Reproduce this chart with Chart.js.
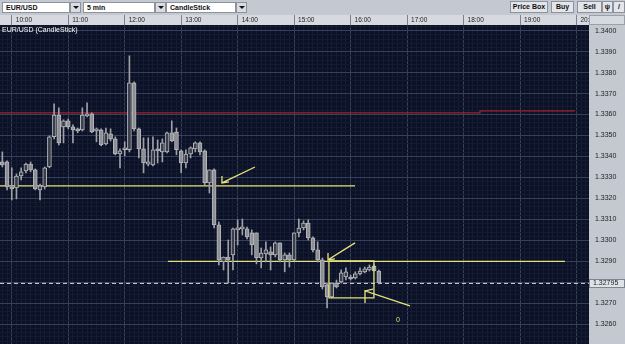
<!DOCTYPE html>
<html>
<head>
<meta charset="utf-8">
<script src="https://cdn.jsdelivr.net/npm/chart.js@4.4.1/dist/chart.umd.min.js"></script>
<style>
  html, body { margin: 0; padding: 0; width: 625px; height: 344px; overflow: hidden; background: #c4c8d0; }
  #bar { position: absolute; left: 0; top: 0; width: 625px; height: 15px; background: #c3c8d1; font-family: "Liberation Sans", Arial, sans-serif; }
  .sel { position: absolute; top: 2px; height: 11px; background: #fff; border: 1px solid #8d929b; box-sizing: border-box; font-weight: bold; font-size: 7px; line-height: 9px; padding-left: 3px; color: #111; }
  .dd { position: absolute; top: 2px; width: 11px; height: 11px; background: #d9dce2; border: 1px solid #8d929b; box-sizing: border-box; }
  .dd:after { content: ''; position: absolute; left: 2px; top: 3px; border-left: 3px solid transparent; border-right: 3px solid transparent; border-top: 3px solid #111; }
  .btn { position: absolute; top: 1px; height: 12px; background: #e2e5e9; border: 1px solid #8d929b; box-sizing: border-box; font-weight: bold; font-size: 7px; line-height: 10px; text-align: center; color: #111; }
  #wrap { position: absolute; left: 0; top: 15px; width: 625px; height: 329px; }
</style>
</head>
<body>
<div id="bar">
  <div class="sel" style="left:2px;width:68px">EUR/USD</div><div class="dd" style="left:70px"></div>
  <div class="sel" style="left:83px;width:72px">5 min</div><div class="dd" style="left:155px"></div>
  <div class="sel" style="left:166px;width:70px">CandleStick</div><div class="dd" style="left:236px"></div>
  <div class="btn" style="left:510px;width:38px">Price Box</div>
  <div class="btn" style="left:551px;width:23px">Buy</div>
  <div class="btn" style="left:577px;width:25px">Sell</div>
  <div class="btn" style="left:602px;width:11px">ψ</div>
  <div class="btn" style="left:613px;width:12px">/</div>
</div>
<div id="wrap"><canvas id="chart" width="625" height="329"></canvas></div>
<script>
// 5 minute EUR/USD candles
const times = [
  '09:50', '09:55',
  '10:00', '10:05', '10:10', '10:15', '10:20', '10:25', '10:30', '10:35', '10:40', '10:45', '10:50', '10:55',
  '11:00', '11:05', '11:10', '11:15', '11:20', '11:25', '11:30', '11:35', '11:40', '11:45', '11:50', '11:55',
  '12:00', '12:05', '12:10', '12:15', '12:20', '12:25', '12:30', '12:35', '12:40', '12:45', '12:50', '12:55',
  '13:00', '13:05', '13:10', '13:15', '13:20', '13:25', '13:30', '13:35', '13:40', '13:45', '13:50', '13:55',
  '14:00', '14:05', '14:10', '14:15', '14:20', '14:25', '14:30', '14:35', '14:40', '14:45', '14:50', '14:55',
  '15:00', '15:05', '15:10', '15:15', '15:20', '15:25', '15:30', '15:35', '15:40', '15:45', '15:50', '15:55',
  '16:00', '16:05', '16:10', '16:15', '16:20', '16:25', '16:30'
];
const opens = [
  1.33374, 1.33374, 1.33255, 1.33250, 1.33307, 1.33331, 1.33364, 1.33336, 1.33241, 1.33255,
  1.33350, 1.33494, 1.33598, 1.33541, 1.33570, 1.33541, 1.33527, 1.33527, 1.33594, 1.33603,
  1.33522, 1.33527, 1.33460, 1.33508, 1.33484, 1.33412, 1.33432, 1.33432, 1.33751, 1.33532,
  1.33436, 1.33364, 1.33360, 1.33432, 1.33422, 1.33422, 1.33513, 1.33517, 1.33427, 1.33369,
  1.33412, 1.33436, 1.33465, 1.33427, 1.33274, 1.33336, 1.33074, 1.32897, 1.32921, 1.32931,
  1.33050, 1.33055, 1.33055, 1.33036, 1.33036, 1.32916, 1.32935, 1.32945, 1.32931, 1.32988,
  1.32907, 1.32931, 1.32907, 1.33036, 1.33059, 1.33083, 1.33012, 1.32955, 1.32907, 1.32788,
  1.32730, 1.32797, 1.32802, 1.32826, 1.32821, 1.32821, 1.32840, 1.32850, 1.32859, 1.32878,
  1.32854
];
const highs = [
  1.33422, 1.33379, 1.33346, 1.33317, 1.33346, 1.33369, 1.33374, 1.33341, 1.33269, 1.33350,
  1.33498, 1.33651, 1.33632, 1.33575, 1.33579, 1.33551, 1.33536, 1.33632, 1.33656, 1.33608,
  1.33536, 1.33532, 1.33536, 1.33532, 1.33494, 1.33436, 1.33470, 1.33880, 1.33756, 1.33536,
  1.33489, 1.33489, 1.33494, 1.33479, 1.33484, 1.33517, 1.33570, 1.33536, 1.33432, 1.33432,
  1.33446, 1.33470, 1.33470, 1.33432, 1.33336, 1.33341, 1.33088, 1.32921, 1.33002, 1.33059,
  1.33098, 1.33102, 1.33064, 1.33050, 1.33036, 1.32964, 1.32993, 1.32969, 1.32993, 1.32988,
  1.32940, 1.32940, 1.33036, 1.33102, 1.33093, 1.33098, 1.33017, 1.32993, 1.32916, 1.32797,
  1.32797, 1.32811, 1.32859, 1.32869, 1.32835, 1.32850, 1.32869, 1.32873, 1.32883, 1.32883,
  1.32859
];
const lows = [
  1.33350, 1.33241, 1.33193, 1.33198, 1.33288, 1.33322, 1.33327, 1.33241, 1.33193, 1.33245,
  1.33346, 1.33484, 1.33455, 1.33465, 1.33532, 1.33465, 1.33513, 1.33522, 1.33589, 1.33513,
  1.33470, 1.33451, 1.33455, 1.33474, 1.33408, 1.33346, 1.33403, 1.33422, 1.33522, 1.33393,
  1.33322, 1.33355, 1.33355, 1.33369, 1.33374, 1.33417, 1.33470, 1.33408, 1.33322, 1.33346,
  1.33393, 1.33422, 1.33408, 1.33265, 1.33226, 1.33059, 1.32883, 1.32859, 1.32797, 1.32859,
  1.32978, 1.33026, 1.33007, 1.32931, 1.32888, 1.32869, 1.32897, 1.32859, 1.32921, 1.32897,
  1.32850, 1.32873, 1.32902, 1.33017, 1.33050, 1.33002, 1.32945, 1.32897, 1.32768, 1.32678,
  1.32726, 1.32773, 1.32797, 1.32811, 1.32811, 1.32816, 1.32835, 1.32845, 1.32854, 1.32854,
  1.32792
];
const closes = [
  1.33360, 1.33255, 1.33245, 1.33307, 1.33327, 1.33364, 1.33336, 1.33245, 1.33260, 1.33346,
  1.33494, 1.33598, 1.33465, 1.33570, 1.33541, 1.33527, 1.33522, 1.33598, 1.33603, 1.33517,
  1.33527, 1.33455, 1.33513, 1.33484, 1.33412, 1.33427, 1.33436, 1.33751, 1.33532, 1.33436,
  1.33369, 1.33374, 1.33432, 1.33427, 1.33465, 1.33513, 1.33474, 1.33432, 1.33369, 1.33412,
  1.33441, 1.33465, 1.33422, 1.33274, 1.33336, 1.33074, 1.32907, 1.32921, 1.32907, 1.33055,
  1.33059, 1.33064, 1.33017, 1.32978, 1.32916, 1.32940, 1.32955, 1.32931, 1.32988, 1.32907,
  1.32931, 1.32907, 1.33036, 1.33059, 1.33083, 1.33012, 1.32955, 1.32907, 1.32778, 1.32730,
  1.32797, 1.32778, 1.32845, 1.32850, 1.32816, 1.32840, 1.32854, 1.32864, 1.32873, 1.32854,
  1.32797
];

// drawn levels and marks, x in minutes after midnight
const lastPrice = 1.32795;
const redLevel = [[587.5, 1.33608], [1097.5, 1.33608], [1097.5, 1.33618], [1198.4, 1.33618]];
const upperYellow = [[587.5, 1.33260], [964.7, 1.33260]];
const lowerYellow = [[766, 1.32900], [1187.8, 1.32900]];
const rangeBox = [[937.0, 1.32902], [984.8, 1.32902], [984.8, 1.32726], [937.0, 1.32726], [937.0, 1.32902]];
const arrowA = [[858.4, 1.33350], [823.3, 1.33274], [823.3, 1.33307], [823.3, 1.33274], [830.8, 1.33279]];
const arrowB = [[964.7, 1.32988], [936.0, 1.32907], [936.0, 1.32940], [936.0, 1.32907], [943.4, 1.32912]];
const arrowC = [[1023.1, 1.32688], [975.3, 1.32759], [975.3, 1.32702], [975.3, 1.32759], [983.8, 1.32768]];
const zeroMark = [1010.4, 1.32621];

const xMin = 587.5, xMax = 1213.3;
const yMin = 1.32506, yMax = 1.34027;

function toMin(t) {
  const [h, m] = t.split(':').map(Number);
  return h * 60 + m;
}
function fmtTime(v) {
  return String(Math.floor(v / 60)).padStart(2, '0') + ':00';
}
const isHour = v => Math.round(v) % 60 === 0;
const isMajorPrice = v => Math.round(v * 10000) % 10 === 0;
const pts = arr => arr.map(p => ({ x: p[0], y: p[1] }));

const wicks = times.map((t, i) => ({ x: toMin(t), y: [lows[i], highs[i]] }));
const bodies = times.map((t, i) => ({ x: toMin(t), y: [opens[i], closes[i]] }));

const yellow = '#e4e27c';
const lineDs = (data, color, extra) => Object.assign({
  type: 'line', data: pts(data), borderColor: color, borderWidth: 1.3,
  pointRadius: 0, fill: false, tension: 0
}, extra || {});

const frame = {
  id: 'frame',
  beforeDraw(c) {
    const { ctx, chartArea: a, width, height } = c;
    ctx.save();
    ctx.fillStyle = '#c4c8d0';
    ctx.fillRect(0, 0, width, height);
    ctx.fillStyle = '#d6d9df';
    ctx.fillRect(0, 0, width, a.top);
    ctx.fillStyle = '#0b1126';
    ctx.fillRect(a.left, a.top, a.right - a.left, a.bottom - a.top);
    ctx.restore();
  },
  afterDraw(c) {
    const { ctx, chartArea: a, scales, width } = c;
    ctx.save();
    // header corner above the price axis hides the clipped last hour label
    ctx.fillStyle = '#d6d9df';
    ctx.fillRect(a.right + 1, 0, width - a.right - 1, a.top);
    ctx.strokeStyle = '#9a9fa8';
    ctx.lineWidth = 1;
    ctx.strokeRect(a.right + 0.5, 0.5, width - a.right - 1, a.top - 1);

    ctx.font = '7px "Liberation Sans", Arial, sans-serif';
    ctx.fillStyle = '#ffffff';
    ctx.textBaseline = 'top';
    ctx.textAlign = 'left';
    ctx.fillText('EUR/USD (CandleStick)', a.left + 2, a.top + 2);

    ctx.fillStyle = yellow;
    ctx.textAlign = 'center';
    ctx.textBaseline = 'middle';
    ctx.font = '7px "Liberation Sans", Arial, sans-serif';
    ctx.fillText('0', scales.x.getPixelForValue(zeroMark[0]), scales.y.getPixelForValue(zeroMark[1]));

    // current price tag on the price axis
    const py = Math.round(scales.y.getPixelForValue(lastPrice));
    ctx.fillStyle = '#dfe2e7';
    ctx.strokeStyle = '#7d8592';
    ctx.fillRect(a.right, py - 4, 36, 9);
    ctx.strokeRect(a.right + 0.5, py - 3.5, 35, 8);
    ctx.fillStyle = '#222';
    ctx.font = '7px "Liberation Sans", Arial, sans-serif';
    ctx.textAlign = 'left';
    ctx.fillText('1.32795', a.right + 4, py + 0.5);
    ctx.restore();
  }
};

new Chart(document.getElementById('chart'), {
  type: 'bar',
  data: {
    datasets: [
      lineDs(redLevel, '#a3202a', { stepped: true, order: 5 }),
      lineDs(upperYellow, yellow, { order: 5 }),
      lineDs(lowerYellow, yellow, { order: 5 }),
      lineDs([[xMin, lastPrice], [xMax, lastPrice]], '#d9dbe2', { borderDash: [4, 3], borderWidth: 1, order: 5 }),
      {
        type: 'bar', data: wicks, backgroundColor: '#9fa1a6', barThickness: 1,
        grouped: false, order: 3
      },
      {
        type: 'bar', data: bodies, barThickness: 4, grouped: false, order: 2,
        minBarLength: 2, borderSkipped: false, borderWidth: 1,
        borderColor: '#b6b8bc',
        backgroundColor: ctx => (closes[ctx.dataIndex] >= opens[ctx.dataIndex] ? '#3a3f4b' : '#8d8f94')
      },
      lineDs(rangeBox, yellow, { order: 1 }),
      lineDs(arrowA, yellow, { order: 1 }),
      lineDs(arrowB, yellow, { order: 1 }),
      lineDs(arrowC, yellow, { order: 1 })
    ]
  },
  options: {
    responsive: false,
    animation: false,
    events: [],
    layout: { padding: 0 },
    plugins: { legend: { display: false }, tooltip: { enabled: false } },
    scales: {
      x: {
        type: 'linear', position: 'top', min: xMin, max: xMax,
        offset: false,
        afterFit: s => { s.height = 10; s.paddingLeft = 0; s.paddingRight = 0; },
        border: { display: false },
        grid: {
          offset: false,
          color: ctx => (ctx.tick && isHour(ctx.tick.value) ? '#36405b' : '#161d33'),
          tickColor: ctx => (ctx.tick && isHour(ctx.tick.value) ? '#7c818b' : 'rgba(0,0,0,0)'),
          tickLength: 10,
          drawTicks: true
        },
        ticks: {
          stepSize: 5, autoSkip: false, includeBounds: false, maxRotation: 0,
          align: 'start', labelOffset: 4, padding: -9,
          color: '#222', font: { size: 6.5, family: '"Liberation Sans", Arial, sans-serif' },
          callback: v => (isHour(v) ? fmtTime(v) : '')
        }
      },
      y: {
        position: 'right', min: yMin, max: yMax,
        afterFit: s => { s.width = 36; s.paddingTop = 0; s.paddingBottom = 0; },
        border: { display: false },
        grid: {
          color: ctx => (ctx.tick && isMajorPrice(ctx.tick.value) ? '#36405b' : '#141b30'),
          drawTicks: false
        },
        ticks: {
          stepSize: 0.0002, autoSkip: false, includeBounds: false,
          crossAlign: 'near', padding: 6,
          color: '#222', font: { size: 7, family: '"Liberation Sans", Arial, sans-serif' },
          callback: v => (isMajorPrice(v) ? v.toFixed(4) : '')
        }
      }
    }
  },
  plugins: [frame]
});
</script>
</body>
</html>
